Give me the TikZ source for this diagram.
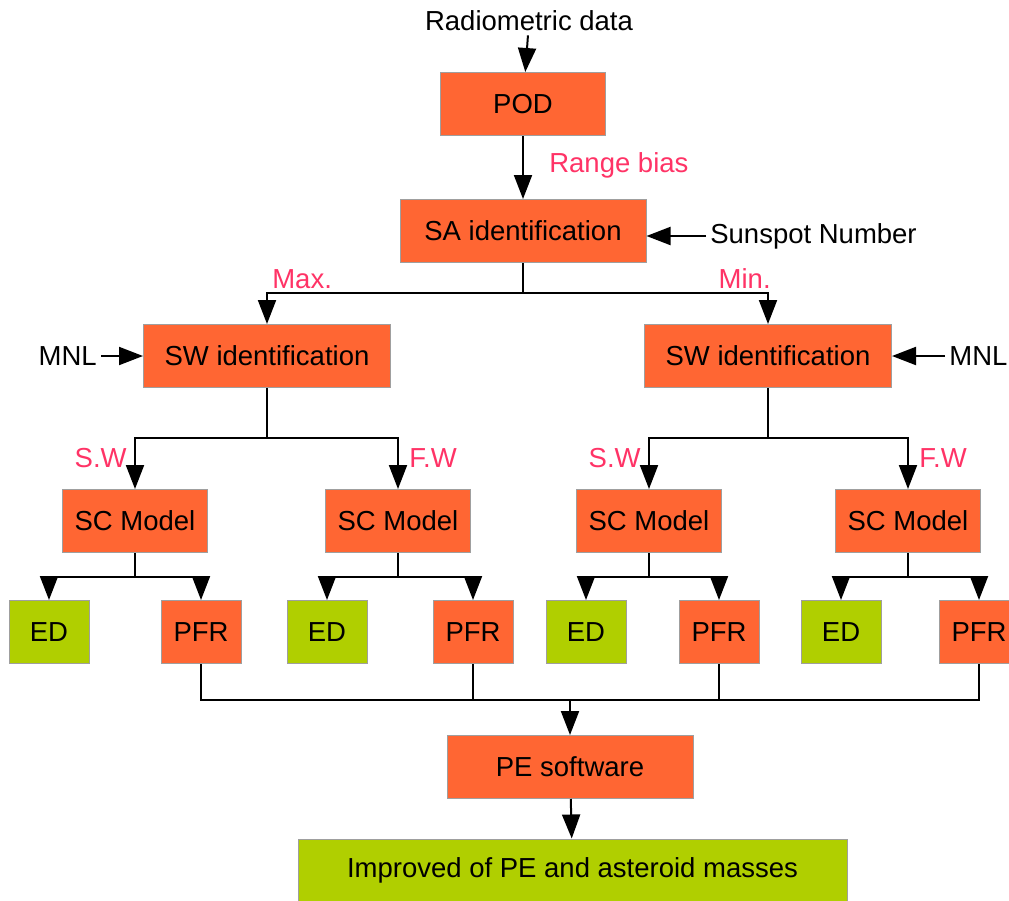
\documentclass[tikz,border=0pt]{standalone}
\usepackage{fontspec}
\setmainfont{Liberation Sans}
\usetikzlibrary{arrows.meta}
\definecolor{boxorange}{HTML}{FF6633}
\definecolor{boxgreen}{HTML}{B0CF00}
\definecolor{labelred}{HTML}{FF3366}
\begin{document}
\begin{tikzpicture}[x=1pt, y=-1pt, line width=2pt,
  every node/.style={font=\fontsize{27.5}{31}\selectfont},
  box/.style={draw=gray!75, line width=1pt, fill=boxorange, minimum height=63pt, inner sep=0pt},
  gbox/.style={box, fill=boxgreen},
  lab/.style={text=labelred},
  arr/.style={-{Triangle[length=24pt,width=18pt]}}]
  \useasboundingbox (0,0) rectangle (1009,900);
  \node (rad) at (529,21) {Radiometric data};
  \node[box, minimum width=165pt] (pod) at (523,104) {POD};
  \node[box, minimum width=246pt] (sa) at (523,231) {SA identification};
  \node[anchor=west] (ssn) at (706,236) {Sunspot Number};
  \node[box, minimum width=247pt] (swl) at (267,356) {SW identification};
  \node[box, minimum width=247pt] (swr) at (768,356) {SW identification};
  \node[anchor=east] (mnll) at (101,356) {MNL};
  \node[anchor=west] (mnlr) at (945,356) {MNL};
  \draw[arr] (rad) -- (pod);
  \draw[arr] (pod) -- node[lab, anchor=west, xshift=22pt, yshift=2pt] {Range bias} (sa);
  \draw[arr] (ssn.west) -- (ssn.west -| sa.east);
  \draw[arr] (mnll) -- (swl);
  \draw[arr] (mnlr) -- (swr);
  \draw[arr] (sa.south) -- ++(0,30) -| node[lab, pos=0.5, anchor=south west, xshift=1pt] {Max.} (swl.north);
  \draw[arr] (sa.south) -- ++(0,30) -| node[lab, pos=0.5, anchor=south east, xshift=7pt] {Min.} (swr.north);
  % wind branches and model outputs
  \foreach \n/\x/\e/\p in {1/135/49/201, 2/398/327/473, 3/649/586/719, 4/908/841/979} {
    \node[box, minimum width=145pt] (sc\n) at (\x,521) {SC Model};
    \node[gbox, minimum width=80pt] (ed\n) at (\e,632) {ED};
    \node[box, minimum width=80pt] (pfr\n) at (\p,632) {PFR};
    \draw[arr] (sc\n.south) -- ++(0,24) -| (ed\n.north);
    \draw[arr] (sc\n.south) -- ++(0,24) -| (pfr\n.north);
  }
  \draw[arr] (swl.south) -- ++(0,50) -| node[lab, pos=0.7, anchor=east, xshift=-4pt] {S.W} (sc1.north);
  \draw[arr] (swl.south) -- ++(0,50) -| node[lab, pos=0.7, anchor=west, xshift=7pt] {F.W} (sc2.north);
  \draw[arr] (swr.south) -- ++(0,50) -| node[lab, pos=0.7, anchor=east, xshift=-4pt] {S.W} (sc3.north);
  \draw[arr] (swr.south) -- ++(0,50) -| node[lab, pos=0.7, anchor=west, xshift=7pt] {F.W} (sc4.north);
  \node[box, minimum width=246pt] (pe) at (570,767) {PE software};
  \node[gbox, minimum width=549pt] (imp) at (572.5,870.5) {Improved of PE and asteroid masses};
  \coordinate (join) at (570,700);
  \draw (pfr1.south) |- (join);
  \draw (pfr4.south) |- (join);
  \draw (pfr2.south) -- (pfr2.south |- join);
  \draw (pfr3.south) -- (pfr3.south |- join);
  \draw[arr] (join) -- (pe);
  \draw[arr] (pe) -- (imp);
\end{tikzpicture}
\end{document}
